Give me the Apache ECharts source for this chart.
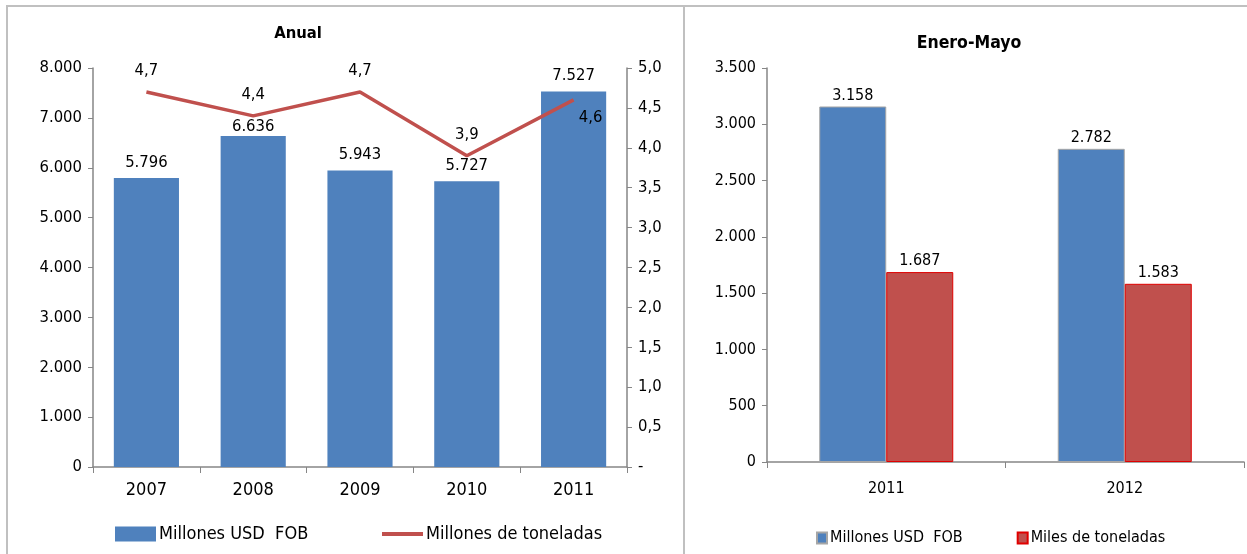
<!DOCTYPE html>
<html>
<head>
<meta charset="utf-8">
<script src="https://cdn.jsdelivr.net/npm/echarts@6/dist/echarts.min.js"></script>
<style>
  html, body { margin: 0; padding: 0; background: #fff; }
  #chart { width: 1247px; height: 554px; }
</style>
</head>
<body>
<div id="chart"></div>
<script>
// Anual
const years = ["2007", "2008", "2009", "2010", "2011"];
const usdFob = [5796, 6636, 5943, 5727, 7527];
const toneladas = [4.7, 4.4, 4.7, 3.9, 4.6];
const leftTicks = [0, 1000, 2000, 3000, 4000, 5000, 6000, 7000, 8000];

// Enero-Mayo
const periods = ["2011", "2012"];
const usdFobEM = [3158, 2782];
const milesTon = [1687, 1583];

const FONT = "'Liberation Sans Narrow', 'Arial Narrow', 'DejaVu Sans Condensed', sans-serif";
const AXIS = "#868686";

// 5796 -> "5.796"
const miles = (v) => String(Math.round(v)).replace(/\B(?=(\d{3})+(?!\d))/g, ".");
const coma = (v) => (v === 0 ? "-" : v.toFixed(1).replace(".", ","));

const chart = echarts.init(document.getElementById("chart"));

const valueAxis = (grid, extra) => Object.assign({
  type: "value",
  gridIndex: grid,
  min: 0,
  splitLine: { show: false },
  axisLine: { show: true, lineStyle: { color: AXIS, width: 1.5 } },
  axisTick: { show: true, length: 5, lineStyle: { color: AXIS } },
}, extra);

const tickLabel = (fmt, size) => ({ color: "#000", fontSize: size, fontFamily: FONT, margin: 11, formatter: fmt });
const legendText = (size) => ({ fontSize: size, color: "#000", fontFamily: FONT, padding: [0, 0, 0, -2] });

const option = {
  animation: false,
  textStyle: { fontFamily: FONT },
  title: [
    { text: "Anual", left: 293, top: 20, textAlign: "center",
      textStyle: { fontSize: 16.5, fontWeight: "bold", color: "#000", fontFamily: FONT } },
    { text: "Enero-Mayo", left: 964, top: 29, textAlign: "center",
      textStyle: { fontSize: 17.5, fontWeight: "bold", color: "#000", fontFamily: FONT } },
  ],
  legend: [
    {
      data: [{ name: "Millones USD  FOB", icon: "rect" }],
      left: 110, top: 520,
      itemWidth: 41, itemHeight: 15,
      textStyle: legendText(18),
    },
    {
      data: [{ name: "Millones de toneladas", icon: "rect" }],
      left: 377, top: 520,
      itemWidth: 41, itemHeight: 4,
      textStyle: legendText(18),
    },
    {
      data: ["Millones USD FOB ", "Miles de toneladas"],
      formatter: (n) => (n === "Millones USD FOB " ? "Millones USD  FOB" : n),
      left: 811, top: 525,
      icon: "rect",
      itemWidth: 10, itemHeight: 11, itemGap: 54,
      textStyle: legendText(16),
    },
  ],
  grid: [
    { left: 93, right: 620, top: 68, bottom: 87 },
    { left: 767, right: 3, top: 68, bottom: 92 },
  ],
  xAxis: [
    {
      type: "category", gridIndex: 0, data: years,
      axisLine: { lineStyle: { color: AXIS, width: 1.5 } },
      axisTick: { show: true, length: 6, lineStyle: { color: AXIS } },
      axisLabel: { color: "#000", fontSize: 18, fontFamily: FONT, margin: 14 },
    },
    {
      type: "category", gridIndex: 1, data: periods,
      axisLine: { lineStyle: { color: AXIS, width: 1.5 } },
      axisTick: { show: true, length: 6, lineStyle: { color: AXIS } },
      axisLabel: { color: "#000", fontSize: 16, fontFamily: FONT, margin: 19 },
    },
  ],
  yAxis: [
    valueAxis(0, { max: leftTicks[leftTicks.length - 1], interval: 1000, axisLabel: tickLabel(miles, 16.5) }),
    valueAxis(0, { max: 5, interval: 0.5, position: "right", axisLabel: tickLabel(coma, 16.5) }),
    valueAxis(1, { max: 3500, interval: 500, axisLabel: tickLabel(miles, 16) }),
  ],
  series: [
    {
      name: "Millones USD  FOB", type: "bar", xAxisIndex: 0, yAxisIndex: 0,
      data: usdFob.map((v, i) => i === 1 ? { value: v, label: { distance: 1 } } : v),
      barWidth: "61%",
      itemStyle: { color: "#4F81BD" },
      label: { show: true, position: "top", distance: 7, color: "#000", fontSize: 16.5,
        fontFamily: FONT, formatter: (p) => miles(p.value) },
    },
    {
      name: "Millones de toneladas", type: "line", xAxisIndex: 0, yAxisIndex: 1,
      data: toneladas.map((v, i) => i === toneladas.length - 1
        ? { value: v, label: { position: "bottom", offset: [17, 0], distance: 9 } } : v),
      symbol: "circle", symbolSize: 0, showSymbol: true,
      lineStyle: { color: "#C0504D", width: 3.5 },
      itemStyle: { color: "#C0504D" },
      label: { show: true, position: "top", distance: 13, color: "#000", fontSize: 16.5,
        fontFamily: FONT, formatter: (p) => coma(p.value) },
      z: 3,
    },
    {
      name: "Millones USD FOB ", type: "bar", xAxisIndex: 1, yAxisIndex: 2,
      data: usdFobEM, barWidth: 67, barGap: "0%",
      itemStyle: { color: "#4F81BD", borderColor: "#A6A6A6", borderWidth: 1 },
      label: { show: true, position: "top", distance: 3, color: "#000", fontSize: 16,
        fontFamily: FONT, formatter: (p) => miles(p.value) },
    },
    {
      name: "Miles de toneladas", type: "bar", xAxisIndex: 1, yAxisIndex: 2,
      data: milesTon, barWidth: 67, barGap: "0%",
      itemStyle: { color: "#C0504D", borderColor: "#E00000", borderWidth: 1 },
      label: { show: true, position: "top", distance: 3, color: "#000", fontSize: 16,
        fontFamily: FONT, formatter: (p) => miles(p.value) },
    },
  ],
  graphic: [
    { type: "line", shape: { x1: 6, y1: 6, x2: 1247, y2: 6 }, style: { stroke: "#C0C0C0", lineWidth: 2 } },
    { type: "line", shape: { x1: 7, y1: 6, x2: 7, y2: 554 }, style: { stroke: "#C0C0C0", lineWidth: 2 } },
    { type: "line", shape: { x1: 684, y1: 6, x2: 684, y2: 554 }, style: { stroke: "#C0C0C0", lineWidth: 2 } },
  ],
};

chart.setOption(option);
</script>
</body>
</html>
